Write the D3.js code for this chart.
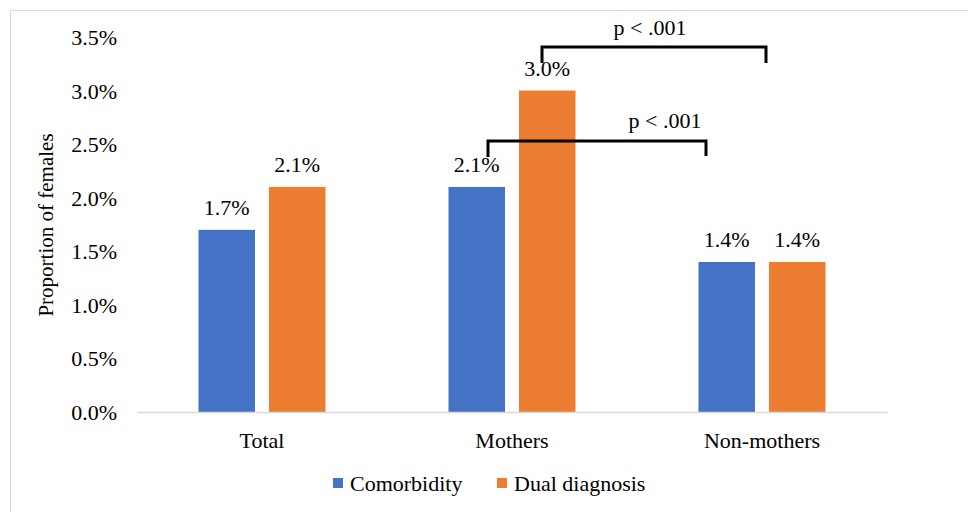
<!DOCTYPE html>
<html>
<head>
<meta charset="utf-8">
<script src="https://cdn.jsdelivr.net/npm/d3@7"></script>
<style>
  html, body { margin: 0; padding: 0; background: #fff; }
  svg { display: block; }
  text { font-family: "Liberation Serif", "Times New Roman", serif; fill: #000; }
</style>
</head>
<body>
<svg id="chart" width="968" height="512"></svg>
<script>
// Proportion of females with comorbidity / dual diagnosis
const categories = ["Total", "Mothers", "Non-mothers"];
const series = ["Comorbidity", "Dual diagnosis"];
const comorbidity = [0.017, 0.021, 0.014];
const dualDiagnosis = [0.021, 0.030, 0.014];
const yTicks = [0, 0.005, 0.010, 0.015, 0.020, 0.025, 0.030, 0.035];
const colors = ["#4472C4", "#ED7D31"];

// Significance brackets: endpoints as (category, offset in band units), heights in data units
const brackets = [
  { label: "p < .001", from: ["Mothers", 0.12], to: ["Non-mothers", 0.016], top: 0.03407, leftEnd: 0.03257, rightEnd: 0.03257, labelY: 0.0352, labelX: ["Mothers", 0.552] },
  { label: "p < .001", from: ["Mothers", -0.096], to: ["Non-mothers", -0.224], top: 0.02529, leftEnd: 0.0238, rightEnd: 0.0239, labelY: 0.0265, labelX: ["Mothers", 0.612] }
];

const svg = d3.select("#chart");

// outer chart-area border
svg.append("rect")
  .attr("x", 10.5).attr("y", 10.5)
  .attr("width", 1000).attr("height", 1000)
  .attr("fill", "none").attr("stroke", "#d9d9d9").attr("stroke-width", 1);

const x0 = d3.scaleBand().domain(categories).range([137, 887]).paddingInner(0).paddingOuter(0);
const groupWidth = 127;
const x1 = d3.scaleBand().domain(series).range([-groupWidth / 2, groupWidth / 2])
  .paddingInner(14 / 70.5).paddingOuter(0);
const y = d3.scaleLinear().domain([0, 0.035]).range([412, 37]);
const center = c => x0(c) + x0.bandwidth() / 2;
const bandX = ([c, f]) => center(c) + f * x0.bandwidth();

const fmt = d3.format(".1%");

// y axis tick labels (no axis line, no gridlines)
const yAxis = d3.axisLeft(y).tickValues(yTicks).tickFormat(fmt).tickSize(0).tickPadding(0);
const gy = svg.append("g").attr("transform", "translate(117,0)").call(yAxis);
gy.select(".domain").remove();
gy.selectAll("text")
  .style("font-family", '"Liberation Serif", serif')
  .style("font-size", "22px").attr("fill", "#000").attr("dy", "0.34em");

// y axis title
svg.append("text")
  .attr("transform", "translate(53,225) rotate(-90)")
  .attr("text-anchor", "middle")
  .style("font-size", "21px")
  .text("Proportion of females");

// bars
const rows = categories.map((c, i) => ({ cat: c, values: [comorbidity[i], dualDiagnosis[i]] }));
const groups = svg.append("g").selectAll("g").data(rows).join("g")
  .attr("transform", d => `translate(${center(d.cat)},0)`);

groups.selectAll("rect").data(d => d.values.map((v, j) => ({ s: series[j], v, j })))
  .join("rect")
  .attr("x", d => x1(d.s))
  .attr("width", x1.bandwidth())
  .attr("y", d => y(d.v))
  .attr("height", d => y(0) - y(d.v))
  .attr("fill", d => colors[d.j]);

groups.selectAll("text.val").data(d => d.values.map((v, j) => ({ s: series[j], v, j })))
  .join("text")
  .attr("class", "val")
  .attr("x", d => x1(d.s) + x1.bandwidth() / 2)
  .attr("y", d => y(d.v) - 15)
  .attr("text-anchor", "middle")
  .style("font-size", "22px")
  .text(d => fmt(d.v));

// x axis line and category labels
const xAxis = d3.axisBottom(x0).tickSize(0).tickPadding(0);
const gx = svg.append("g").attr("transform", `translate(0,${y(0)})`).call(xAxis);
gx.select(".domain").attr("stroke", "#d9d9d9").attr("stroke-width", 1.5);
gx.selectAll("text")
  .style("font-family", '"Liberation Serif", serif')
  .style("font-size", "22px").attr("fill", "#000")
  .attr("dy", 0).attr("y", 36);

// significance brackets
const bg = svg.append("g");
brackets.forEach(b => {
  const xl = bandX(b.from), xr = bandX(b.to);
  bg.append("path")
    .attr("d", `M${xl},${y(b.leftEnd)}V${y(b.top)}H${xr}V${y(b.rightEnd)}`)
    .attr("fill", "none").attr("stroke", "#000").attr("stroke-width", 3);
  bg.append("text")
    .attr("x", bandX(b.labelX))
    .attr("y", y(b.labelY))
    .attr("text-anchor", "middle")
    .style("font-size", "22px")
    .text(b.label);
});

// legend
const legend = svg.append("g").attr("transform", "translate(0,491)");
const legendX = [333, 497];
series.forEach((s, i) => {
  legend.append("rect")
    .attr("x", legendX[i]).attr("y", -13).attr("width", 10).attr("height", 10)
    .attr("fill", colors[i]);
  legend.append("text")
    .attr("x", legendX[i] + 17).attr("y", 0)
    .style("font-size", "22px")
    .text(s);
});
</script>
</body>
</html>
